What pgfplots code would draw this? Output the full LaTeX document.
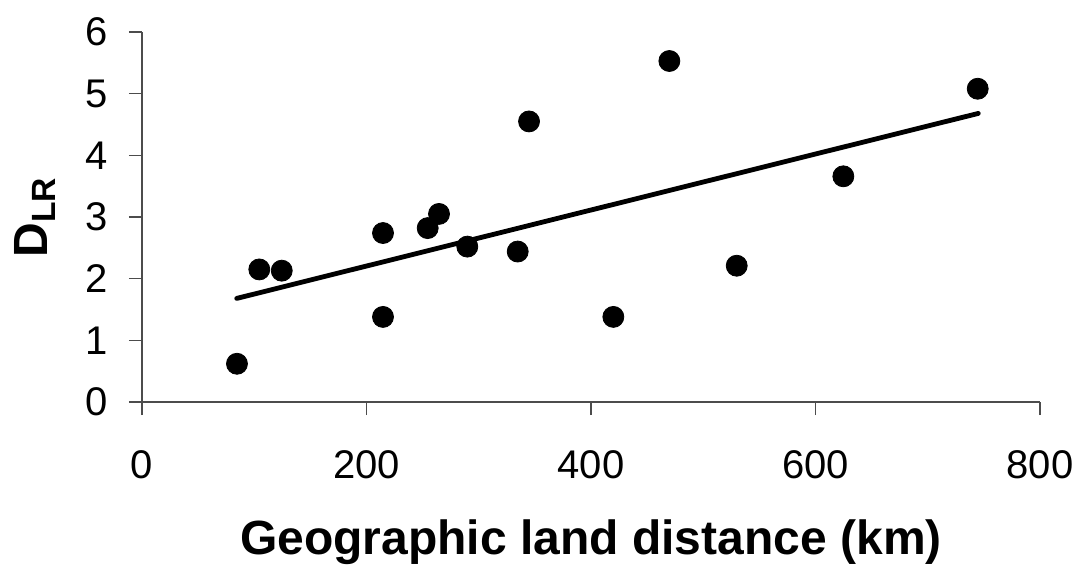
\documentclass[border=0pt]{standalone}
\usepackage{pgfplots}
\pgfplotsset{compat=1.18}
\usepackage{fontspec}
\setmainfont{Liberation Sans}
\begin{document}
\begin{tikzpicture}
\begin{axis}[
  scale only axis,
  width=449pt, height=185pt,
  xmin=0, xmax=800, ymin=0, ymax=6,
  axis x line*=bottom, axis y line*=left,
  axis line style={black!70, line width=0.75pt},
  xtick={0,200,...,800}, ytick={0,1,...,6},
  tick align=outside,
  major tick length=6.5pt,
  tick style={black!70, line width=0.75pt},
  /pgf/number format/assume math mode=true,
  ticklabel style={font=\fontsize{20}{24}\selectfont, inner sep=0pt},
  xticklabel style={anchor=north, yshift=-17.5pt},
  yticklabel style={anchor=east, xshift=-10.5pt},
  xlabel={\textbf{Geographic land distance (km)}},
  ylabel={\textbf{D\textsubscript{LR}}},
  label style={font=\fontsize{24}{28}\selectfont},
  xlabel style={at={(axis description cs:0.5,-0.4135)}, anchor=base, inner sep=0pt},
  ylabel style={at={(axis description cs:-0.1047,0.5)}, anchor=base, inner sep=0pt},
  clip=false,
]
\addplot[only marks, mark=*, mark size=5.25pt, black] coordinates {
  (84.6,0.62) (104.5,2.15) (124.5,2.13) (214.7,2.74) (214.7,1.38)
  (254.5,2.82) (264.6,3.05) (289.8,2.52) (334.7,2.44) (344.8,4.55)
  (419.9,1.38) (469.8,5.53) (529.8,2.21) (624.8,3.66) (744.5,5.08)
};
\addplot[black, line width=2.4pt, line cap=round] coordinates {
  (84.4,1.68) (745,4.68)
};
\coordinate (o) at (rel axis cs:0,0);
\end{axis}
\pgfresetboundingbox
\path[use as bounding box] ([shift={(-71pt,-82.5pt)}]o) rectangle ++(539.5pt,283.5pt);
\end{tikzpicture}
\end{document}
